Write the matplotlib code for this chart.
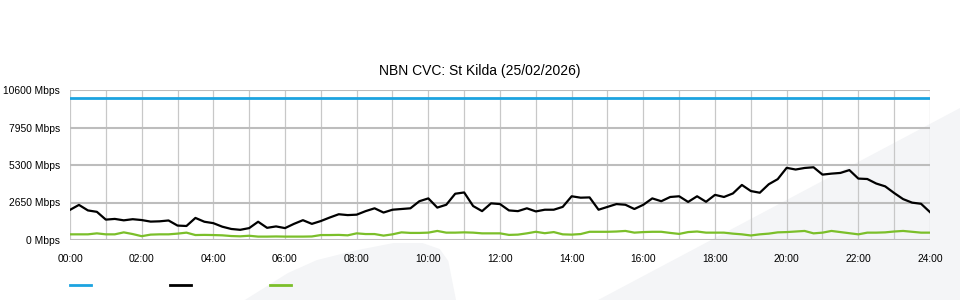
import numpy as np
import matplotlib.pyplot as plt
from matplotlib.lines import Line2D
from matplotlib.patches import Polygon

plt.rcParams['font.family'] = ['Liberation Sans', 'DejaVu Sans']

title = 'NBN CVC: St Kilda (25/02/2026)'

# 15 minute samples, 00:00 .. 24:00
hours = np.arange(97) * 0.25

capacity = 10000

used_down = [2130, 2480, 2090, 1990, 1440, 1490, 1390, 1470, 1410, 1300, 1320, 1380,
             1020, 990, 1560, 1290, 1190, 940, 780, 720, 840, 1290, 860, 960,
             840, 1140, 1400, 1140, 1340, 1590, 1820, 1760, 1790, 2040, 2240, 1940,
             2140, 2190, 2240, 2740, 2940, 2290, 2490, 3270, 3360, 2400, 2040, 2590,
             2540, 2090, 2040, 2240, 2020, 2140, 2140, 2340, 3090, 2990, 3010, 2140,
             2340, 2540, 2490, 2190, 2490, 2940, 2740, 3040, 3090, 2690, 3090, 2700,
             3190, 3040, 3290, 3890, 3460, 3340, 3940, 4300, 5100, 4980, 5090, 5140,
             4620, 4690, 4740, 4940, 4340, 4310, 3990, 3790, 3320, 2890, 2640, 2560,
             1970]

used_up = [400, 400, 400, 470, 400, 400, 540, 420, 270, 380, 400, 400,
           450, 520, 350, 360, 350, 330, 280, 260, 300, 240, 240, 250,
           240, 240, 240, 250, 350, 350, 360, 330, 470, 420, 420, 310,
           400, 540, 500, 500, 520, 640, 520, 520, 540, 520, 470, 470,
           470, 360, 380, 470, 580, 480, 560, 400, 380, 420, 580, 580,
           580, 600, 640, 520, 560, 580, 580, 500, 430, 560, 600, 520,
           520, 520, 450, 400, 320, 400, 450, 540, 560, 600, 640, 470,
           520, 640, 560, 480, 400, 520, 520, 540, 600, 640, 580, 520,
           520]

y_ticks = [0, 2650, 5300, 7950, 10600]
x_ticks = np.arange(0, 25, 2)
x_labels = ['%02d:00' % h for h in x_ticks]

blue = '#1ca3e0'
green = '#7bbf2a'

fig = plt.figure(figsize=(9.6, 3), dpi=100)

# faint background swooshes
bg = '#f4f5f7'
fig.patches.append(Polygon([(0.255, 0.0), (0.30, 0.09), (0.33, 0.133), (0.37, 0.165),
                            (0.41, 0.19), (0.44, 0.19), (0.458, 0.17), (0.467, 0.13),
                            (0.475, 0.0)], closed=True, transform=fig.transFigure,
                           facecolor=bg, edgecolor='none', zorder=-5))
fig.patches.append(Polygon([(0.623, 0.0), (1.0, 0.64), (1.0, 0.0)], closed=True,
                           transform=fig.transFigure,
                           facecolor=bg, edgecolor='none', zorder=-5))

ax = fig.add_axes([70/960, 0.2, 860/960, 0.5])
ax.patch.set_alpha(0)
ax.set_zorder(1)

ax.axhline(capacity, color=blue, lw=2, zorder=3)
ax.plot(hours, used_down, color='black', lw=1.6, zorder=4)
ax.plot(hours, used_up, color=green, lw=1.6, zorder=3)

ax.set_xlim(0, 24)
ax.set_ylim(0, 10600)
ax.set_yticks(y_ticks)
ax.set_yticklabels(['%d Mbps' % v for v in y_ticks])
ax.set_xticks(x_ticks)
ax.set_xticklabels(x_labels)
ax.set_xticks(np.arange(1, 25, 2), minor=True)
ax.tick_params(axis='both', which='both', length=0, labelsize=7.4, colors='black')
ax.tick_params(axis='y', pad=7)
ax.tick_params(axis='x', pad=10)

ax.grid(axis='x', which='both', color='#c8c8c8', lw=0.9)
ax.grid(axis='y', which='major', color='#bdbdbd', lw=1.5)
for s in ax.spines.values():
    s.set_visible(False)

fig.text(0.5, 1 - 71/300, title, ha='center', va='center', fontsize=10)

# legend swatches (no labels)
for x0, c in [(70, blue), (170, 'black'), (270, green)]:
    fig.add_artist(Line2D([x0/960, (x0 + 21)/960], [1 - 285/300] * 2,
                          color=c, lw=2, transform=fig.transFigure))

fig.savefig('out.png', dpi=100)
